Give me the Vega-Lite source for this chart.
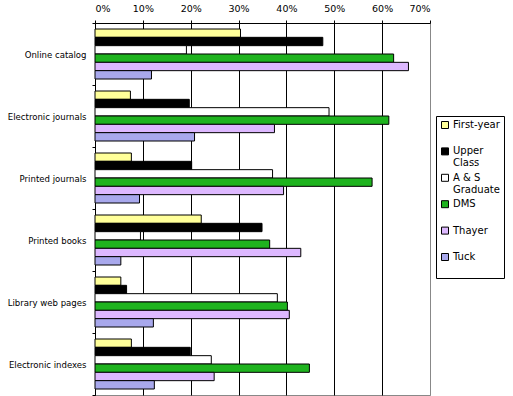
{
  "$schema": "https://vega.github.io/schema/vega-lite/v6.json",
  "width": 335,
  "height": 372,
  "autosize": "none",
  "padding": {"left": 95, "top": 23, "right": 83, "bottom": 1},
  "background": "white",
  "config": {
    "view": {"stroke": "#888888", "strokeWidth": 1},
    "font": "DejaVu Sans"
  },
  "data": {
    "values": [
      {"category": "Online catalog", "series": "First-year", "value": 0.304},
      {"category": "Online catalog", "series": "Upper Class", "value": 0.476},
      {"category": "Online catalog", "series": "A & S Graduate", "value": 0.191},
      {"category": "Online catalog", "series": "DMS", "value": 0.624},
      {"category": "Online catalog", "series": "Thayer", "value": 0.655},
      {"category": "Online catalog", "series": "Tuck", "value": 0.118},
      {"category": "Electronic journals", "series": "First-year", "value": 0.074},
      {"category": "Electronic journals", "series": "Upper Class", "value": 0.197},
      {"category": "Electronic journals", "series": "A & S Graduate", "value": 0.489},
      {"category": "Electronic journals", "series": "DMS", "value": 0.614},
      {"category": "Electronic journals", "series": "Thayer", "value": 0.375},
      {"category": "Electronic journals", "series": "Tuck", "value": 0.208},
      {"category": "Printed journals", "series": "First-year", "value": 0.076},
      {"category": "Printed journals", "series": "Upper Class", "value": 0.202},
      {"category": "Printed journals", "series": "A & S Graduate", "value": 0.371},
      {"category": "Printed journals", "series": "DMS", "value": 0.579},
      {"category": "Printed journals", "series": "Thayer", "value": 0.394},
      {"category": "Printed journals", "series": "Tuck", "value": 0.093},
      {"category": "Printed books", "series": "First-year", "value": 0.222},
      {"category": "Printed books", "series": "Upper Class", "value": 0.349},
      {"category": "Printed books", "series": "A & S Graduate", "value": 0.095},
      {"category": "Printed books", "series": "DMS", "value": 0.365},
      {"category": "Printed books", "series": "Thayer", "value": 0.430},
      {"category": "Printed books", "series": "Tuck", "value": 0.054},
      {"category": "Library web pages", "series": "First-year", "value": 0.054},
      {"category": "Library web pages", "series": "Upper Class", "value": 0.066},
      {"category": "Library web pages", "series": "A & S Graduate", "value": 0.381},
      {"category": "Library web pages", "series": "DMS", "value": 0.402},
      {"category": "Library web pages", "series": "Thayer", "value": 0.406},
      {"category": "Library web pages", "series": "Tuck", "value": 0.122},
      {"category": "Electronic indexes", "series": "First-year", "value": 0.076},
      {"category": "Electronic indexes", "series": "Upper Class", "value": 0.199},
      {"category": "Electronic indexes", "series": "A & S Graduate", "value": 0.243},
      {"category": "Electronic indexes", "series": "DMS", "value": 0.448},
      {"category": "Electronic indexes", "series": "Thayer", "value": 0.249},
      {"category": "Electronic indexes", "series": "Tuck", "value": 0.124}
    ]
  },
  "mark": {"type": "bar", "stroke": "black", "strokeWidth": 1, "cornerRadius": 0},
  "encoding": {
    "y": {
      "field": "category",
      "type": "nominal",
      "sort": ["Online catalog", "Electronic journals", "Printed journals", "Printed books", "Library web pages", "Electronic indexes"],
      "scale": {"paddingInner": 0, "paddingOuter": 0},
      "axis": {
        "title": null,
        "tickBand": "extent",
        "tickSize": 3,
        "tickColor": "black",
        "domainColor": "black",
        "labelPadding": 6,
        "labelFont": "'DejaVu Sans Condensed', 'Liberation Sans'",
        "labelFontSize": 9.5,
        "labelColor": "black",
        "grid": false
      }
    },
    "yOffset": {
      "field": "series",
      "type": "nominal",
      "sort": ["First-year", "Upper Class", "A & S Graduate", "DMS", "Thayer", "Tuck"],
      "scale": {"paddingInner": 0, "paddingOuter": 0.72}
    },
    "x": {
      "field": "value",
      "type": "quantitative",
      "scale": {"domain": [0, 0.7], "nice": false},
      "axis": {
        "orient": "top",
        "title": null,
        "format": ".0%",
        "values": [0, 0.1, 0.2, 0.3, 0.4, 0.5, 0.6, 0.7],
        "tickSize": 3,
        "tickColor": "black",
        "domainColor": "black",
        "labelPadding": 7,
        "labelFontSize": 9.5,
        "labelColor": "black",
        "grid": true,
        "gridColor": {"condition": {"test": "datum.value >= 0.7", "value": "#888888"}, "value": "black"},
        "gridOpacity": 1
      }
    },
    "fill": {
      "field": "series",
      "type": "nominal",
      "sort": ["First-year", "Upper Class", "A & S Graduate", "DMS", "Thayer", "Tuck"],
      "scale": {
        "domain": ["First-year", "Upper Class", "A & S Graduate", "DMS", "Thayer", "Tuck"],
        "range": ["#FFFF99", "#000000", "#FFFFFF", "#1FB31F", "#DDB8FF", "#A8A8EC"]
      },
      "legend": {
        "title": null,
        "orient": "none",
        "legendX": 341,
        "legendY": 93,
        "padding": 4,
        "strokeColor": "black",
        "fillColor": "white",
        "symbolType": "square",
        "symbolSize": 49,
        "symbolStrokeColor": "black",
        "symbolStrokeWidth": 1,
        "labelFontSize": 10,
        "labelColor": "black",
        "labelOffset": 3,
        "rowPadding": 3.4,
        "labelExpr": "datum.label == 'Upper Class' ? ['Upper', 'Class'] : datum.label == 'A & S Graduate' ? ['A & S', 'Graduate'] : [datum.label, ' ']"
      }
    }
  }
}
